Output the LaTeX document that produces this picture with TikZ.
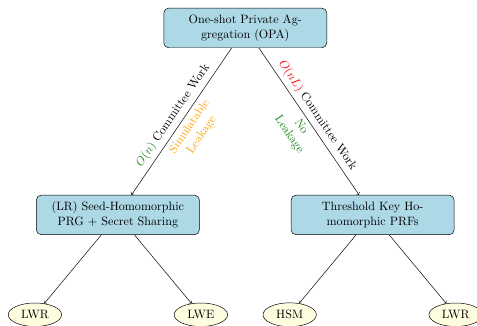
\documentclass[tikz,border=0pt]{standalone}
\usepackage{xcolor}
\usepackage{tikz}
\usetikzlibrary{shapes,arrows,positioning}
\usepackage{amsmath}

\definecolor{lightblue}{HTML}{ADD8E6}
\definecolor{lightyellow}{HTML}{FFFDE0}
\definecolor{darkgreen}{HTML}{1E8A1E}
\definecolor{lightorange}{HTML}{FFA514}

\begin{document}
\begin{tikzpicture}[
    on grid,
    scheme/.style={rectangle, rounded corners, draw, fill=lightblue, text width=4.5cm, text centered, minimum height=1.15cm},
    assumption/.style={ellipse, draw, fill=lightyellow, minimum width=1.55cm}
]

\useasboundingbox (-202.7pt,-246.3pt) rectangle (191.5pt,23.1pt);

% Constructions
\node[scheme] (opa) {One-shot Private Aggregation (OPA)};
\node[scheme, below left=5.43cm and 3.7cm of opa] (seedprg) {(LR) Seed-Homomorphic PRG + Secret Sharing};
\node[scheme, below right=5.43cm and 3.7cm of opa] (thprf) {Threshold Key Homomorphic PRFs};

% Assumptions
\node[assumption, below left=2.9cm and 2.41cm of seedprg] (lwr1) {LWR};
\node[assumption, below right=2.9cm and 2.41cm of seedprg] (lwe) {LWE};
\node[assumption, below left=2.9cm and 2.41cm of thprf] (hsm) {HSM};
\node[assumption, below right=2.9cm and 2.41cm of thprf] (lwr2) {LWR};

% Connections
\draw[->] (opa) -- node[midway, above, sloped] {\textcolor{darkgreen}{$O(n)$} Committee Work}
    node[midway, below, sloped, align=center, text=lightorange] {Simulatable\\Leakage} (seedprg);
\draw[->] (opa) -- node[midway, above, sloped] {\textcolor{red}{$O(nL)$} Committee Work}
    node[midway, below, sloped, align=center, text=darkgreen] {No\\Leakage} (thprf);
\draw[->] (seedprg) -- (lwr1);
\draw[->] (seedprg) -- (lwe);
\draw[->] (thprf) -- (hsm);
\draw[->] (thprf) -- (lwr2);

\end{tikzpicture}
\end{document}
